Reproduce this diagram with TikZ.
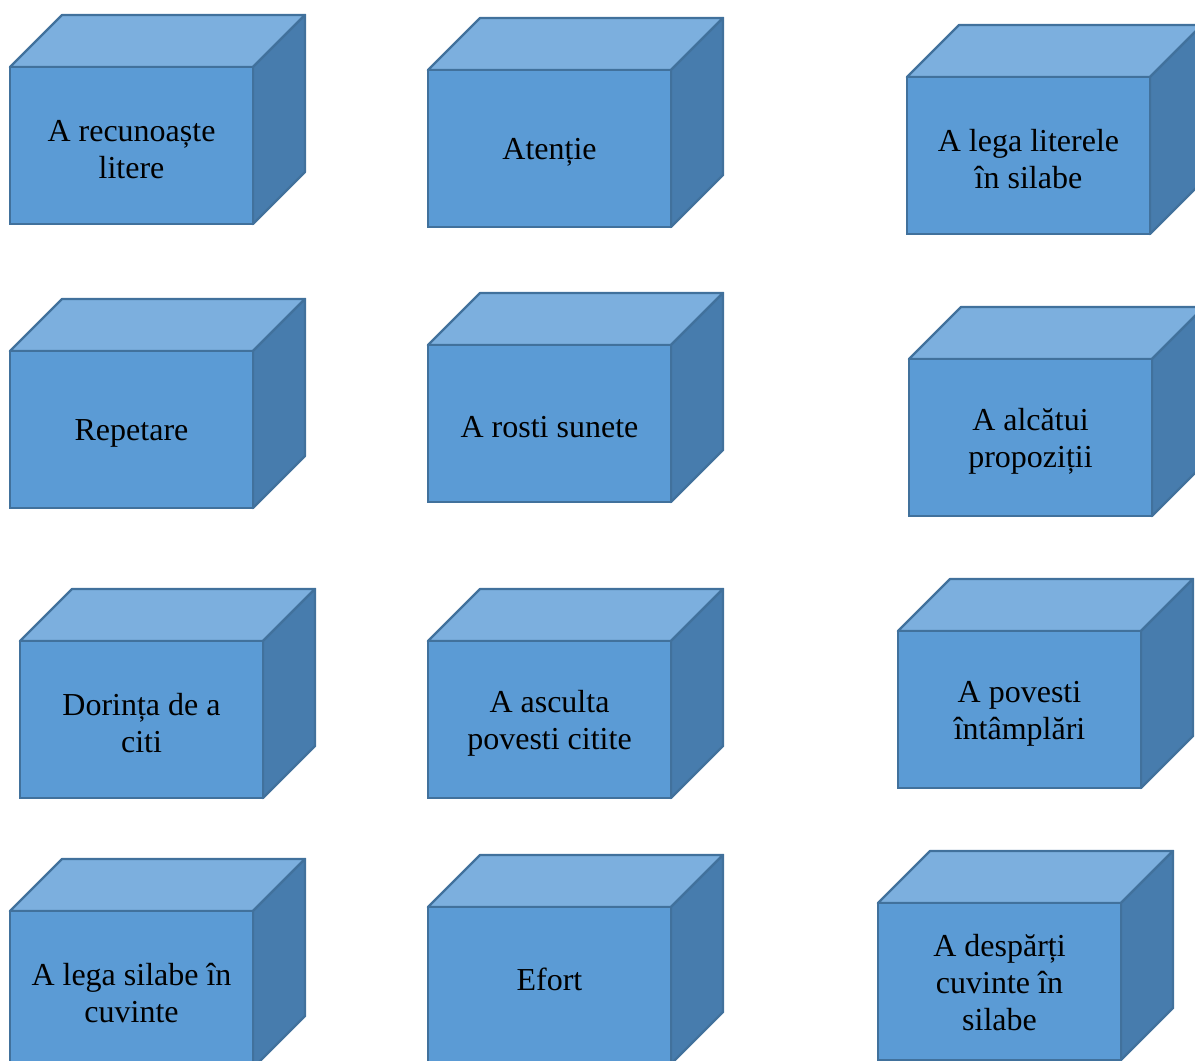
\documentclass[tikz,border=0pt]{standalone}
\usepackage{fontspec}
\setmainfont{Liberation Serif}
\usetikzlibrary{calc}
\definecolor{frontc}{HTML}{5B9BD5}
\definecolor{topc}{HTML}{7CAFDE}
\definecolor{sidec}{HTML}{477CAD}
\definecolor{edgec}{HTML}{41719C}
\tikzset{
  frontface/.style={draw=edgec, fill=frontc, line width=2.4pt, minimum width=243pt, minimum height=157pt, inner sep=0pt},
  cubetext/.style={align=center, font=\fontsize{32}{37}\selectfont, text=black, inner sep=0pt},
  topface/.style={draw=edgec, fill=topc, line width=2.4pt, line join=round},
  sideface/.style={draw=edgec, fill=sidec, line width=2.4pt, line join=round}
}
\newcommand{\mycube}[5][-4]{%
  \coordinate (#2tl) at (#3,#4);
  \draw[topface] (#2tl) -- ++(52,-52) -- ++(243,0) -- ++(-52,52) -- cycle;
  \draw[sideface] ($(#2tl)+(243,0)$) -- ++(52,-52) -- ++(0,157) -- ++(-52,52) -- cycle;
  \node[frontface] (#2) at ($(#2tl)+(121.5,78.5)$) {};
  \node[cubetext, yshift=#1pt] (#2txt) at (#2.center) {#5};
}
\begin{document}
\begin{tikzpicture}[x=1pt,y=-1pt]
\useasboundingbox (0,0) rectangle (1195,1061);
\clip (0,0) rectangle (1195,1061);
\mycube{b1}{10}{67}{A recunoaște\\litere}
\mycube{b2}{428}{70}{Atenție}
\mycube{b3}{907}{77}{A lega literele\\în silabe}
\mycube{b4}{10}{351}{Repetare}
\mycube{b5}{428}{345}{A rosti sunete}
\mycube{b6}{909}{359}{A alcătui\\propoziții}
\mycube{b7}{20}{641}{Dorința de a\\citi}
\mycube{b8}{428}{641}{A asculta\\povesti citite}
\mycube{b9}{898}{631}{A povesti\\întâmplări}
\mycube{b10}{10}{911}{A lega silabe în\\cuvinte}
\mycube[6]{b11}{428}{907}{Efort}
\mycube[-1]{b12}{878}{903}{A despărți\\cuvinte în\\silabe}
\end{tikzpicture}
\end{document}
